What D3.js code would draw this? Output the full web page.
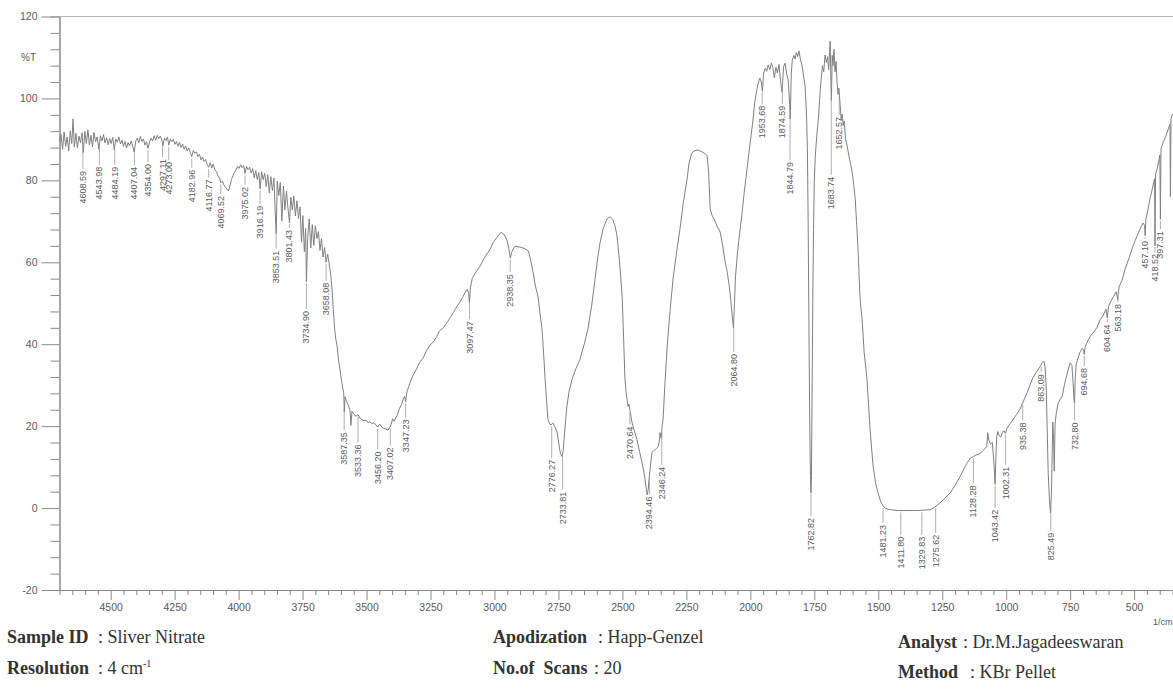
<!DOCTYPE html>
<html>
<head>
<meta charset="utf-8">
<script src="https://cdn.jsdelivr.net/npm/d3@7"></script>
<style>
  body { margin: 0; background: #fff; }
  svg { display: block; }
  .axis text { font-family: "Liberation Sans", Arial, sans-serif; fill: #5a5a5a; }
  .peak-label { font-family: "Liberation Sans", Arial, sans-serif; font-size: 9px; fill: #5a5a5a; }
  .meta { font-family: "Liberation Serif", "Times New Roman", serif; font-size: 18px; fill: #333; }
  .meta .key { font-weight: bold; }
</style>
</head>
<body>
<svg id="chart" width="1173" height="689"></svg>
<script>
// FTIR spectrum of silver nitrate, %T against wavenumber (1/cm)

// 4700 - 3240 : noisy high range and the broad O-H band
var spectrumHigh = [
  [4700,89.5],[4694,91.2],[4688,87.6],[4682,91.8],[4676,88.3],[4670,90.6],[4664,87.2],[4658,92.1],[4652,89.0],[4647,95.0],
  [4642,88.1],[4636,91.5],[4630,87.9],[4624,90.8],[4618,89.2],[4612,91.6],[4607,86.8],[4601,91.9],[4595,89.0],[4589,92.3],
  [4583,88.6],[4577,91.0],[4571,88.2],[4565,91.7],[4559,89.4],[4553,90.6],[4546,87.6],[4540,90.9],[4534,89.6],[4528,91.2],
  [4522,89.1],[4516,90.4],[4510,88.7],[4504,90.2],[4498,89.0],[4492,90.5],[4486,87.4],[4480,90.1],[4474,89.3],[4468,90.6],
  [4462,88.9],[4456,89.8],[4450,88.3],[4444,89.5],[4438,87.9],[4432,89.2],[4426,88.4],[4420,89.6],[4414,88.4],[4408,86.9],
  [4402,89.6],[4396,90.3],[4390,89.2],[4384,90.7],[4378,89.5],[4372,90.1],[4366,88.6],[4360,89.4],[4354,87.8],[4348,89.4],
  [4342,90.3],[4336,89.6],[4330,90.9],[4324,89.8],[4318,91.0],[4312,90.2],[4306,90.8],[4300,89.9],[4296,88.4],[4290,90.3],
  [4284,89.7],[4278,90.6],[4273,88.6],[4267,90.1],[4261,89.4],[4255,90.0],[4249,88.8],[4243,89.5],[4237,88.3],[4231,89.3],
  [4225,88.0],[4219,88.9],[4213,87.6],[4207,88.4],[4201,87.2],[4195,87.9],[4189,86.8],[4183,85.8],[4177,87.3],[4171,86.6],
  [4165,87.0],[4159,85.8],[4153,86.4],[4147,85.0],[4141,85.7],[4135,84.6],[4129,85.1],[4123,83.9],[4117,83.2],[4111,84.3],
  [4105,83.0],[4099,84.0],[4093,82.6],[4087,82.2],[4081,81.2],[4075,80.6],[4069,79.4],[4063,79.8],[4057,78.8],[4051,78.3],
  [4045,77.8],[4040,77.4],[4034,78.6],[4028,80.2],[4022,81.2],[4016,81.9],[4010,82.6],[4004,83.4],[3998,82.9],[3992,83.8],
  [3986,83.1],[3980,83.6],[3975,81.7],[3969,83.4],[3963,82.6],[3957,83.2],[3951,81.8],[3945,82.9],[3939,80.6],[3933,82.4],
  [3927,80.2],[3921,81.9],[3916,77.9],[3910,82.1],[3904,80.2],[3898,81.7],[3892,78.5],[3886,81.4],[3880,76.9],[3874,80.9],
  [3868,77.5],[3862,80.6],[3857,72.4],[3853,67.0],[3849,79.8],[3843,76.3],[3837,79.5],[3831,70.1],[3825,78.6],[3819,72.8],
  [3813,77.4],[3807,73.1],[3801,69.6],[3796,75.9],[3790,72.8],[3784,76.2],[3778,71.3],[3772,75.0],[3766,70.7],[3760,73.5],
  [3754,64.9],[3749,71.4],[3743,62.6],[3738,68.3],[3735,55.2],[3730,66.0],[3724,70.6],[3718,63.5],[3712,69.2],[3706,64.1],
  [3700,68.9],[3694,65.8],[3688,67.5],[3682,62.9],[3676,65.8],[3670,61.3],[3664,63.6],[3658,60.0],[3652,62.0],[3646,59.6],
  [3640,57.0],[3635,53.5],[3630,48.5],[3625,44.0],[3620,41.2],[3615,39.5],[3610,36.4],[3604,33.9],[3598,31.2],[3592,29.0],
  [3589,28.0],[3587,23.5],[3584,27.2],[3578,26.0],[3572,25.2],[3565,24.0],[3561,20.2],[3557,23.6],[3550,23.0],[3542,22.4],
  [3533,22.8],[3525,21.9],[3518,21.6],[3510,21.3],[3502,21.5],[3494,20.8],[3486,21.1],[3479,20.6],[3471,20.9],[3463,20.2],
  [3456,19.8],[3448,20.5],[3440,19.7],[3432,19.4],[3424,19.3],[3416,19.0],[3410,19.6],[3404,20.4],[3398,21.8],[3392,21.2],
  [3386,22.0],[3380,22.6],[3372,24.2],[3364,25.2],[3357,26.5],[3351,27.3],[3347,25.9],[3342,28.4],[3335,29.7],[3328,31.0],
  [3318,32.4],[3306,33.8],[3292,35.6],[3279,36.6],[3266,38.4],[3252,39.8]
];

// 3240 - 2020 : C-H region, 2750 / 2400 bands and the 2065 dip
var spectrumMid = [
  [3240,40.5],[3228,41.6],[3215,43.2],[3200,44.0],[3185,45.3],[3172,46.6],[3160,47.8],[3146,49.3],[3135,50.3],[3125,51.4],
  [3115,52.6],[3107,53.4],[3101,52.5],[3098,50.2],[3094,53.8],[3087,56.0],[3075,57.4],[3056,59.1],[3040,61.0],[3017,63.2],
  [3005,64.8],[2990,66.1],[2975,67.3],[2966,67.0],[2958,66.3],[2950,65.2],[2944,63.4],[2938,61.0],[2932,62.6],[2920,63.9],
  [2900,63.7],[2884,63.4],[2868,62.8],[2860,61.0],[2849,57.5],[2840,54.2],[2830,51.7],[2822,47.5],[2814,43.6],[2808,37.8],
  [2802,31.4],[2796,25.8],[2791,21.6],[2784,20.5],[2778,20.3],[2772,20.8],[2765,20.0],[2755,18.5],[2748,15.5],[2742,13.3],
  [2736,12.6],[2732,13.8],[2728,16.7],[2722,21.3],[2717,24.8],[2708,28.6],[2697,31.4],[2682,34.0],[2666,36.3],[2650,39.8],
  [2635,43.6],[2620,49.5],[2607,55.9],[2597,60.8],[2587,64.9],[2575,68.2],[2560,70.6],[2548,71.1],[2538,70.5],[2529,68.9],
  [2522,66.8],[2517,64.0],[2509,58.5],[2501,51.7],[2495,41.0],[2490,31.4],[2485,28.0],[2478,24.8],[2474,25.4],[2470,23.6],
  [2462,20.8],[2452,18.6],[2443,16.7],[2433,13.8],[2423,11.0],[2416,8.8],[2411,6.9],[2406,4.4],[2403,3.2],[2399,4.6],
  [2396,6.9],[2390,10.5],[2384,13.6],[2378,14.0],[2372,14.3],[2366,14.6],[2360,15.0],[2356,16.2],[2353,18.4],[2348,17.0],
  [2345,19.8],[2341,21.6],[2335,29.0],[2325,39.5],[2314,48.0],[2302,55.9],[2288,62.5],[2275,68.1],[2262,74.5],[2247,80.4],
  [2240,84.0],[2230,86.5],[2220,87.2],[2205,87.4],[2190,87.0],[2178,86.6],[2169,86.0],[2163,82.0],[2157,73.0],[2150,71.5],
  [2140,70.3],[2128,68.6],[2118,67.4],[2108,64.0],[2098,60.0],[2090,57.5],[2082,54.0],[2076,50.5],[2071,47.0],[2066,44.0],
  [2062,50.0],[2058,56.5],[2050,62.5],[2042,67.0],[2034,71.0],[2024,77.0]
];

// 2013 - 1480 : noisy top, nitrate band at 1763 and the saturated edge
var spectrumCarbonyl = [
  [2013,82.7],[2005,87.0],[1997,91.0],[1990,94.5],[1983,99.0],[1976,101.5],[1970,103.5],[1963,105.0],[1957,104.0],[1953,101.8],
  [1948,106.2],[1942,107.4],[1936,106.6],[1930,108.2],[1924,107.0],[1918,108.6],[1912,107.5],[1906,105.0],[1900,107.6],[1894,106.2],
  [1888,108.3],[1882,104.2],[1876,101.5],[1870,107.8],[1864,108.6],[1858,106.0],[1852,104.5],[1846,98.5],[1844,95.0],[1840,106.0],
  [1836,109.3],[1830,110.5],[1825,109.6],[1820,111.2],[1815,110.2],[1810,111.6],[1805,109.8],[1798,108.0],[1792,105.5],[1786,103.0],
  [1781,97.0],[1777,88.0],[1774,70.0],[1771,45.0],[1768,22.0],[1765,8.0],[1763,3.7],[1761,8.0],[1759,25.0],[1756,50.0],
  [1753,68.0],[1750,80.0],[1746,86.0],[1740,91.0],[1734,95.0],[1728,101.0],[1722,105.5],[1718,108.0],[1713,106.5],[1708,110.6],
  [1703,108.8],[1698,110.2],[1694,107.0],[1690,111.5],[1688,114.0],[1685,104.0],[1683,99.5],[1680,110.5],[1677,108.0],[1673,112.0],
  [1669,106.5],[1665,109.0],[1661,104.0],[1657,101.0],[1654,102.5],[1652,100.8],[1649,98.5],[1645,94.8],[1641,96.2],[1637,93.4],
  [1633,94.5],[1628,90.2],[1622,88.5],[1617,86.8],[1612,85.1],[1607,83.6],[1602,82.0],[1596,79.0],[1590,75.5],[1585,70.0],
  [1579,63.2],[1575,57.0],[1571,51.0],[1563,46.0],[1555,38.0],[1544,31.4],[1532,19.2],[1520,10.1],[1510,6.0],[1501,3.7],
  [1490,1.5],[1481,0.5]
];

// 1473 - 350 : fingerprint region
var spectrumLow = [
  [1473,0.0],[1460,-0.3],[1442,-0.5],[1420,-0.6],[1400,-0.6],[1380,-0.6],[1360,-0.6],[1340,-0.6],[1320,-0.5],[1297,-0.4],
  [1280,0.2],[1258,1.3],[1240,2.4],[1219,3.7],[1200,5.5],[1180,7.7],[1165,9.6],[1152,11.1],[1140,12.2],[1128,12.6],
  [1115,13.0],[1102,13.3],[1088,14.2],[1076,15.0],[1072,18.4],[1068,16.6],[1061,15.6],[1054,16.0],[1048,11.0],[1043.4,5.8],
  [1040,13.0],[1037,17.4],[1033,18.7],[1027,17.6],[1021,17.3],[1015,18.4],[1009,18.9],[1003,18.2],[996,19.6],[985,20.6],
  [973,21.6],[960,22.8],[946,24.1],[936,25.6],[918,28.2],[906,30.2],[895,31.9],[880,33.4],[867,34.6],[858,35.6],
  [852,35.8],[848,34.2],[844,30.0],[840,20.0],[836,9.0],[831,2.0],[827,-1.2],[823,4.0],[820,14.0],[818,21.0],
  [815,17.0],[812,9.0],[809,20.5],[804,23.3],[796,25.8],[788,26.6],[781,27.3],[772,30.2],[761,33.0],[750,35.5],
  [743,34.8],[738,30.0],[735,26.5],[733,25.6],[730,32.0],[726,35.2],[720,36.5],[712,38.0],[703,39.0],[698,38.6],
  [695,37.5],[692,39.2],[686,40.2],[671,42.0],[657,43.0],[644,44.2],[633,46.0],[621,47.0],[610,48.6],[605,46.4],
  [600,49.2],[590,50.6],[582,51.5],[570,52.8],[564,50.9],[559,54.0],[547,55.6],[536,58.2],[520,61.0],[504,64.0],
  [490,66.2],[477,68.1],[465,69.6],[459,69.0],[457,66.5],[454,70.6],[446,72.8],[438,75.5],[430,77.6],[424,79.4],
  [420,80.4],[418.5,64.0],[416,81.5],[410,82.8],[403,85.0],[399.5,86.2],[397.3,70.5],[395,87.6],[386,89.4],[376,90.8],
  [366,92.6],[360,93.8],[358,76.0],[356,95.0],[350,96.2]
];

// peak-picking labels and the %T level where each label text begins
var peakLabels = [
  "4608.59","4543.98","4484.19","4407.04","4354.00","4297.11","4273.00","4182.96","4116.77","4069.52",
  "3975.02","3916.19","3853.51","3801.43","3734.90","3658.08","3587.35","3533.36","3456.20","3407.02",
  "3347.23","3097.47","2938.35","2776.27","2733.81","2470.64","2394.46","2346.24","2064.80","1953.68",
  "1874.59","1844.79","1762.82","1683.74","1652.57","1481.23","1411.80","1329.83","1275.62","1128.28",
  "1043.42","1002.31","935.38","863.09","825.49","732.80","694.68","604.64","563.18","457.10",
  "418.52","397.31"
];
var peakLabelTop = [
  82.3,83.3,83.3,83.3,84.0,85.2,84.5,82.6,80.2,76.2,
  78.4,73.8,62.8,67.9,48.1,55.0,18.5,15.5,13.8,14.8,
  21.6,45.6,57.1,11.8,4.0,19.9,2.8,10.1,37.6,98.2,
  98.2,84.5,-2.4,80.9,95.5,-4.1,-7.0,-7.0,-6.5,5.5,
  -0.4,10.1,20.9,32.7,-6.0,20.9,34.2,44.8,49.8,65.2,
  62.0,67.6
];

var yTicks = [-20, 0, 20, 40, 60, 80, 100, 120];
var xTicks = [4500, 4250, 4000, 3750, 3500, 3250, 3000, 2750, 2500, 2250, 2000, 1750, 1500, 1250, 1000, 750, 500];

var spectrum = spectrumHigh.concat(spectrumMid, spectrumCarbonyl, spectrumLow);

var svg = d3.select("#chart");

var x = d3.scaleLinear().domain([4700, 350]).range([59.5, 1172.5]);
var y = d3.scaleLinear().domain([-20, 120]).range([590, 16.5]);

var axisColor = "#8a8a8a";
var plain = function(d) { return String(d); };

// frame: top rule
svg.append("line")
  .attr("x1", x(4700)).attr("x2", 1173)
  .attr("y1", y(120)).attr("y2", y(120))
  .attr("stroke", "#b5b5b5").attr("stroke-width", 1);

// y axis (minor ticks every 4 %T)
var yMinor = d3.range(-20, 121, 4).filter(function(v) { return yTicks.indexOf(v) < 0; });
var yAxisG = svg.append("g").attr("class", "axis").attr("transform", "translate(" + x(4700) + ",0)");
yAxisG.call(d3.axisLeft(y).tickValues(yTicks).tickFormat(plain).tickSize(18).tickPadding(4).tickSizeOuter(0));
yAxisG.append("g").call(d3.axisLeft(y).tickValues(yMinor).tickSize(9).tickFormat(""));
yAxisG.selectAll("text").attr("font-size", "10.5px");

// x axis (minor ticks every 50 1/cm)
var xMinor = d3.range(4700, 349, -50).filter(function(v) { return xTicks.indexOf(v) < 0; });
var xAxisG = svg.append("g").attr("class", "axis").attr("transform", "translate(0," + y(-20) + ")");
xAxisG.call(d3.axisBottom(x).tickValues(xTicks).tickFormat(plain).tickSize(10).tickPadding(4).tickSizeOuter(0));
xAxisG.append("g").call(d3.axisBottom(x).tickValues(xMinor).tickSize(5).tickFormat("").tickSizeOuter(0));
xAxisG.selectAll("text").attr("font-size", "10.5px");

svg.selectAll(".axis path, .axis line").attr("stroke", axisColor);
svg.selectAll(".axis .domain").attr("stroke-width", 1);

svg.append("text")
  .attr("x", 21).attr("y", y(110) + 4)
  .attr("font-family", "Liberation Sans, Arial, sans-serif")
  .attr("font-size", "10px").attr("fill", "#5a5a5a")
  .text("%T");

svg.append("text")
  .attr("x", 1153).attr("y", 625)
  .attr("font-family", "Liberation Sans, Arial, sans-serif")
  .attr("font-size", "9px").attr("fill", "#5a5a5a")
  .text("1/cm");

// spectrum trace
var line = d3.line()
  .x(function(d) { return x(d[0]); })
  .y(function(d) { return y(d[1]); });

svg.append("path")
  .datum(spectrum)
  .attr("fill", "none")
  .attr("stroke", "#808080")
  .attr("stroke-width", 1)
  .attr("stroke-linejoin", "round")
  .attr("d", line);

// curve value at a wavenumber, for the label leaders
var ascending = spectrum.slice().sort(function(a, b) { return a[0] - b[0]; });
var bisect = d3.bisector(function(d) { return d[0]; }).left;
function curveAt(w) {
  var i = bisect(ascending, w);
  if (i <= 0) return ascending[0][1];
  if (i >= ascending.length) return ascending[ascending.length - 1][1];
  var a = ascending[i - 1], b = ascending[i];
  var t = (w - a[0]) / (b[0] - a[0]);
  return a[1] + t * (b[1] - a[1]);
}

var peaks = peakLabels.map(function(label, i) {
  return { label: label, w: parseFloat(label), top: peakLabelTop[i] };
});

var peakG = svg.append("g");

peakG.selectAll("line.leader")
  .data(peaks.filter(function(p) { return y(p.top) - 2 > y(curveAt(p.w)) + 2; }))
  .enter().append("line")
  .attr("class", "leader")
  .attr("x1", function(p) { return x(p.w); })
  .attr("x2", function(p) { return x(p.w); })
  .attr("y1", function(p) { return y(curveAt(p.w)) + 2; })
  .attr("y2", function(p) { return y(p.top) - 2; })
  .attr("stroke", "#999")
  .attr("stroke-width", 0.8);

peakG.selectAll("text.peak-label")
  .data(peaks)
  .enter().append("text")
  .attr("class", "peak-label")
  .attr("transform", function(p) { return "translate(" + x(p.w) + "," + y(p.top) + ") rotate(-90)"; })
  .attr("text-anchor", "end")
  .attr("dominant-baseline", "central")
  .text(function(p) { return p.label; });

// acquisition details under the plot
var metaRows = [
  { x: 7,   y: 643, key: "Sample ID", vx: 98, value: ": Sliver Nitrate" },
  { x: 7,   y: 674, key: "Resolution", vx: 98, value: ": 4 cm", sup: "-1" },
  { x: 493, y: 643, key: "Apodization", vx: 598, value: ": Happ-Genzel" },
  { x: 493, y: 674, key: "No.of  Scans", vx: 594, value: ": 20" },
  { x: 898, y: 648, key: "Analyst", vx: 963, value: ": Dr.M.Jagadeeswaran" },
  { x: 898, y: 678, key: "Method", vx: 970, value: ": KBr Pellet" }
];

var metaG = svg.append("g").attr("class", "meta");
metaRows.forEach(function(r) {
  metaG.append("text").attr("class", "key").attr("x", r.x).attr("y", r.y)
    .attr("xml:space", "preserve").text(r.key);
  var t = metaG.append("text").attr("x", r.vx).attr("y", r.y).text(r.value);
  if (r.sup) {
    t.append("tspan").attr("dy", -7).attr("font-size", "10px").text(r.sup);
  }
});
</script>
</body>
</html>
